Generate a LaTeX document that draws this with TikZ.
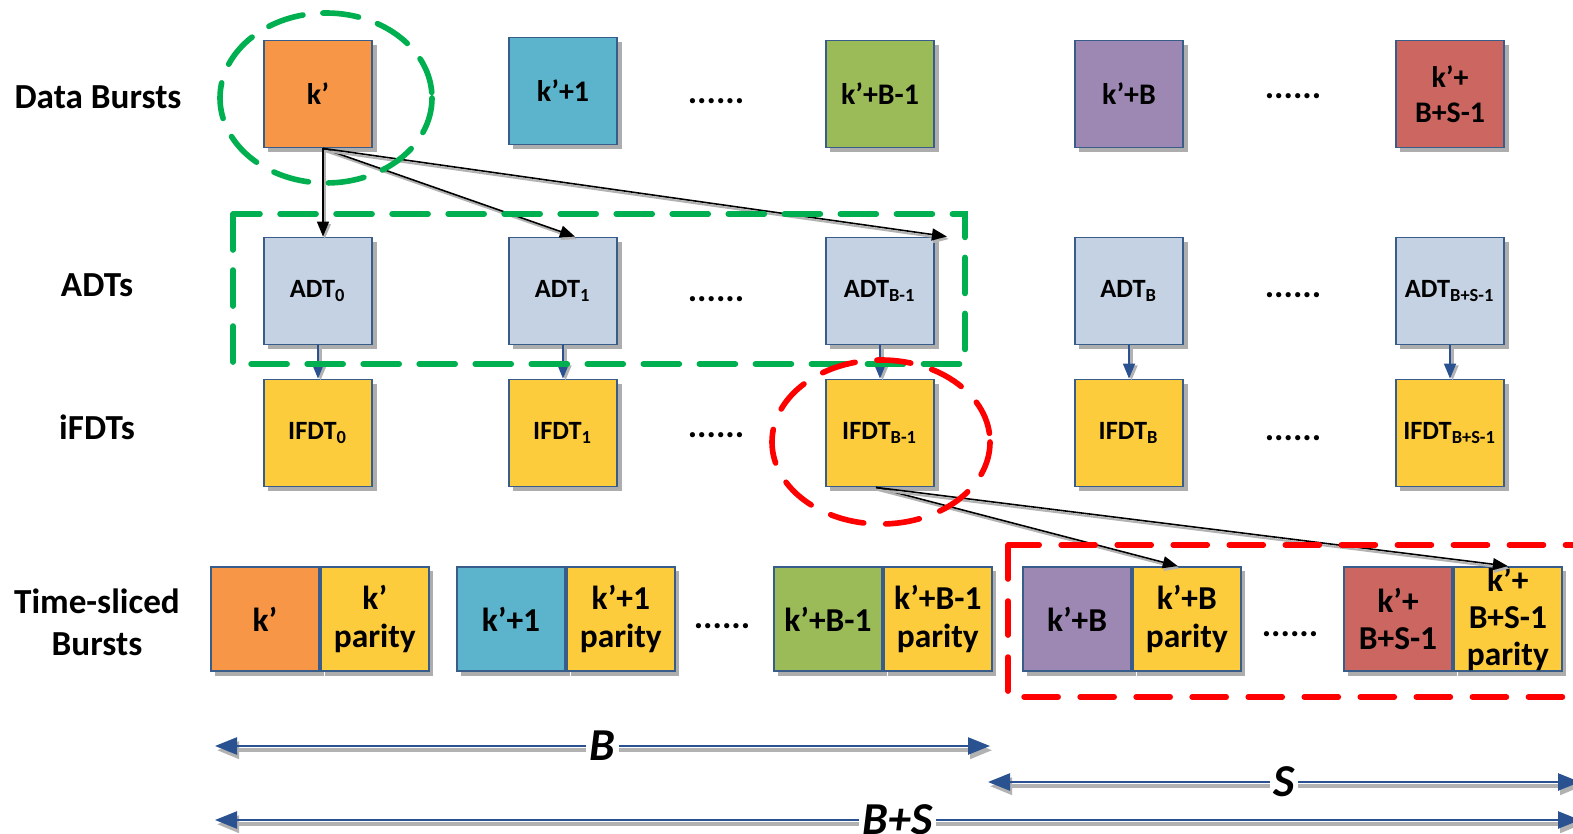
\documentclass[tikz,border=0pt]{standalone}
\usepackage{fontspec}
\setmainfont{Carlito}
\usepackage{tikz}
\usetikzlibrary{arrows.meta, positioning, shadows}

\definecolor{burstorange}{HTML}{F79646}
\definecolor{burstblue}{HTML}{5BB4CB}
\definecolor{burstgreen}{HTML}{9BBB59}
\definecolor{burstpurple}{HTML}{9D88B4}
\definecolor{burstred}{HTML}{CC6660}
\definecolor{adtblue}{HTML}{C5D2E3}
\definecolor{fdtyellow}{HTML}{FDCC3C}
\definecolor{boxline}{HTML}{385D8A}
\definecolor{arrownavy}{HTML}{2A5190}
\definecolor{markgreen}{HTML}{00B050}
\definecolor{markred}{HTML}{FF0000}

\begin{document}
\begin{tikzpicture}[
    x=0.01cm, y=-0.01cm,
    block/.style={rectangle, draw=boxline, line width=0.5pt, fill=#1, minimum width=1.08cm, minimum height=1.07cm, inner sep=0pt, align=center, font=\fontsize{8.5}{10}\selectfont\bfseries, drop shadow={shadow xshift=0.45mm, shadow yshift=-0.45mm, fill=black!32, opacity=1}},
    tablebox/.style={block=#1, font=\fontsize{7.5}{9}\selectfont\bfseries},
    slice/.style={block=#1, minimum height=1.04cm, font=\fontsize{9.5}{10.6}\selectfont\bfseries},
    rowlabel/.style={align=center, font=\fontsize{10}{12}\selectfont\bfseries},
    gap/.style={font=\fontsize{10}{12}\selectfont\bfseries, inner sep=0pt},
    fanout/.style={-{Triangle[length=1.5mm, width=1.2mm]}, line width=0.45pt, preaction={draw=black!30, line width=0.6pt, transform canvas={shift={(0.5pt,-0.7pt)}}}},
    down/.style={-{Triangle[length=1.5mm, width=1.2mm]}, draw=arrownavy, fill=arrownavy, line width=0.45pt, preaction={draw=black!30, line width=0.6pt, transform canvas={shift={(0.7pt,-0.5pt)}}}},
    dim/.style={{Triangle[length=2.2mm, width=1.7mm]}-{Triangle[length=2.2mm, width=1.7mm]}, draw=arrownavy, fill=arrownavy, line width=0.7pt, preaction={draw=black!30, line width=1pt, transform canvas={shift={(0.6pt,-1.2pt)}}}},
    dimlabel/.style={fill=white, inner sep=1pt, font=\fontsize{13}{14}\selectfont\bfseries\itshape},
    greenmark/.style={draw=markgreen, line width=1.6pt, dash pattern=on 0.36cm off 0.2cm, line cap=round},
    redmark/.style={draw=markred, line width=1.6pt, dash pattern=on 0.34cm off 0.22cm, line cap=round}
]
\clip (0,0) rectangle (1573,834);

% Row labels
\node[rowlabel] (lbdata) at (98,97) {Data Bursts};
\node[rowlabel] (lbadt) at (97,285) {ADTs};
\node[rowlabel] (lbifdt) at (97,427) {iFDTs};
\node[rowlabel] (lbslice) at (97,622) {Time-sliced\\Bursts};

% Data bursts
\node[block=burstorange] (d0) at (318,94) {k’};
\node[block=burstblue] (d1) at (563,91) {k’+1};
\node[block=burstgreen] (dBm) at (880,94) {k’+B-1};
\node[block=burstpurple] (dB) at (1129,94) {k’+B};
\node[block=burstred] (dBS) at (1450,94) {k’+\\B+S-1};
\node[gap] (gd1) at (716,101) {......};
\node[gap] (gd2) at (1293,96) {......};

% ADTs
\node[tablebox=adtblue] (a0) at (318,291) {ADT\textsubscript{0}};
\node[tablebox=adtblue] (a1) at (563,291) {ADT\textsubscript{1}};
\node[tablebox=adtblue] (aBm) at (880,291) {ADT\textsubscript{B-1}};
\node[tablebox=adtblue] (aB) at (1129,291) {ADT\textsubscript{B}};
\node[tablebox=adtblue] (aBS) at (1450,291) {ADT\textsubscript{B+S-1}};
\node[gap] (ga1) at (716,299) {......};
\node[gap] (ga2) at (1293,295) {......};

% iFDTs
\node[tablebox=fdtyellow] (f0) at (318,433) {IFDT\textsubscript{0}};
\node[tablebox=fdtyellow] (f1) at (563,433) {IFDT\textsubscript{1}};
\node[tablebox=fdtyellow] (fBm) at (880,433) {IFDT\textsubscript{B-1}};
\node[tablebox=fdtyellow] (fB) at (1129,433) {IFDT\textsubscript{B}};
\node[tablebox=fdtyellow] (fBS) at (1450,433) {IFDT\textsubscript{B+S-1}};
\node[gap] (gf1) at (716,435) {......};
\node[gap] (gf2) at (1293,438) {......};

% Time-sliced bursts
\node[slice=burstorange] (t0) at (265,619) {k’};
\node[slice=fdtyellow, right=0pt of t0] (p0) {k’\\parity};
\node[slice=burstblue] (t1) at (511,619) {k’+1};
\node[slice=fdtyellow, right=0pt of t1] (p1) {k’+1\\parity};
\node[slice=burstgreen] (tBm) at (828,619) {k’+B-1};
\node[slice=fdtyellow, right=0pt of tBm] (pBm) {k’+B-1\\parity};
\node[slice=burstpurple] (tB) at (1077,619) {k’+B};
\node[slice=fdtyellow, right=0pt of tB] (pB) {k’+B\\parity};
\node[slice=burstred] (tBS) at (1398,619) {k’+\\B+S-1};
\node[slice=fdtyellow, right=0pt of tBS] (pBS) {k’+\\B+S-1\\parity};
\node[gap] (gt1) at (722,626) {......};
\node[gap] (gt2) at (1290,634) {......};

% Burst to ADTs
\draw[fanout] ([xshift=0.05cm]d0.south) -- ([xshift=0.05cm]a0.north);
\draw[fanout] ([xshift=0.05cm]d0.south) -- ([xshift=0.12cm]a1.north);
\draw[fanout] ([xshift=0.05cm]d0.south) -- ([xshift=0.12cm]aBm.north east);

% ADTs to iFDTs
\draw[down] (a0) -- (f0);
\draw[down] (a1) -- (f1);
\draw[down] (aBm) -- (fBm);
\draw[down] (aB) -- (fB);
\draw[down] (aBS) -- (fBS);

% iFDT to parity
\draw[fanout] ([xshift=-0.04cm]fBm.south) -- ([xshift=-0.09cm]pB.north);
\draw[fanout] ([xshift=-0.04cm]fBm.south) -- (pBS.north);

% Highlights
\draw[greenmark] (326,98) ellipse [x radius=106, y radius=85];
\draw[greenmark] (233,214) rectangle (965,364);
\draw[redmark] (881,442) ellipse [x radius=109, y radius=82];
\draw[redmark] (1008,545) rectangle (1600,697);

% Span arrows
\coordinate (bl) at (215,746);
\coordinate (br) at (990,746);
\coordinate (sl) at (988,782);
\coordinate (sr) at (1580,782);
\coordinate (al) at (215,820);
\coordinate (ar) at (1580,820);
\draw[dim] (bl) -- node[dimlabel] (lbB) {B} (br);
\draw[dim] (sl) -- node[dimlabel] (lbS) {S} (sr);
\draw[dim] (al) -- node[dimlabel] (lbBS) {B+S} (ar);

\end{tikzpicture}
\end{document}
